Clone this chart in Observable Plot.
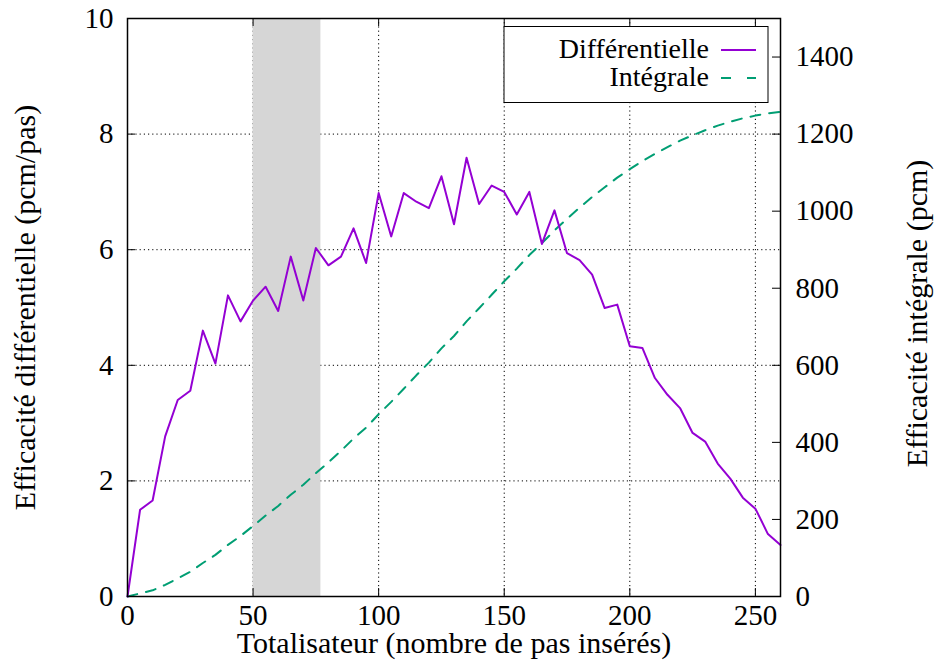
<!DOCTYPE html>
<html>
<head>
<meta charset="utf-8">
<script src="https://cdn.jsdelivr.net/npm/d3@7"></script>
<script src="https://cdn.jsdelivr.net/npm/@observablehq/plot@0.6"></script>
<style>
  html, body { margin: 0; padding: 0; background: #fff; }
  #chart { width: 935px; height: 668px; }
</style>
</head>
<body>
<div id="chart"></div>
<script>
// Data
const steps = [0,5,10,15,20,25,30,35,40,45,50,55,60,65,70,75,80,85,90,95,100,105,110,115,120,125,130,135,140,145,150,155,160,165,170,175,180,185,190,195,200,205,210,215,220,225,230,235,240,245,250,255,260];
const differentielle = [0,1.50,1.66,2.77,3.40,3.56,4.60,4.03,5.21,4.76,5.12,5.36,4.94,5.88,5.12,6.03,5.73,5.88,6.37,5.77,6.98,6.23,6.98,6.83,6.72,7.27,6.44,7.59,6.79,7.11,7.00,6.61,7.00,6.10,6.68,5.94,5.82,5.57,4.99,5.05,4.33,4.30,3.78,3.49,3.26,2.83,2.68,2.30,2.04,1.71,1.52,1.08,0.89];
const integrale = [0,8,16,30,47,64,87,108,134,157,183,210,235,264,290,320,348,378,410,438,473,505,539,574,607,644,676,714,748,783,818,851,886,917,950,980,1009,1037,1062,1087,1109,1130,1149,1166,1183,1197,1210,1222,1232,1241,1248,1254,1258];
const xTicks = [0,50,100,150,200,250];
const yTicks = [0,2,4,6,8,10];
const y2Ticks = [0,200,400,600,800,1000,1200,1400];
const gridXTicks = [50,100,150,200,250];
const gridYTicks = [2,4,6,8];
const band = [{x1: 50, x2: 77}];
const seriesNames = ["Différentielle", "Intégrale"];
const xLabel = "Totalisateur (nombre de pas insérés)";
const yLabel = "Efficacité différentielle (pcm/pas)";
const y2Label = "Efficacité intégrale (pcm)";

const y2Max = 1500, yMax = 10;
const k = y2Max / yMax; // y2 units per y unit

const diffData = steps.map((s, i) => ({x: s, v: differentielle[i]}));
const intData = steps.map((s, i) => ({x: s, v: integrale[i] / k}));

const W = 935, H = 668, mL = 127, mR = 155, mT = 18, mB = 72;
const pw = W - mL - mR, ph = H - mT - mB;
const font = "Liberation Serif";
const FS = 29;      // tick labels
const FT = 30;      // axis titles
const FL = 28;      // legend
const purple = "#9400d3", green = "#009e73";

const chart = Plot.plot({
  width: W, height: H,
  marginLeft: mL, marginRight: mR, marginTop: mT, marginBottom: mB,
  x: {domain: [0, 260]},
  y: {domain: [0, yMax]},
  marks: [
    Plot.gridX(gridXTicks, {stroke: "#000", strokeOpacity: 1, strokeWidth: 1, strokeDasharray: "1.2,3"}),
    Plot.gridY(gridYTicks, {stroke: "#000", strokeOpacity: 1, strokeWidth: 1, strokeDasharray: "1.2,3"}),
    Plot.rect(band, {x1: "x1", x2: "x2", fill: "#d6d6d6"}),
    // inward ticks
    Plot.ruleY(yTicks, {stroke: "#000", strokeWidth: 1, insetRight: pw - 8}),
    Plot.ruleY(y2Ticks.map(v => v / k), {stroke: "#000", strokeWidth: 1, insetLeft: pw - 8}),
    Plot.ruleX(xTicks, {stroke: "#000", strokeWidth: 1, insetTop: ph - 8}),
    Plot.ruleX(xTicks, {stroke: "#000", strokeWidth: 1, insetBottom: ph - 8}),
    Plot.line(intData, {x: "x", y: "v", stroke: green, strokeWidth: 2, strokeDasharray: "10,9"}),
    Plot.line(diffData, {x: "x", y: "v", stroke: purple, strokeWidth: 2}),
    Plot.frame({stroke: "#000", strokeWidth: 1.5}),
    Plot.axisX(xTicks, {tickSize: 0, tickPadding: 8, label: null, fontFamily: font, fontSize: FS, fill: "#000", tickFormat: d => String(d)}),
    Plot.axisY(yTicks, {tickSize: 0, tickPadding: 14, label: null, fontFamily: font, fontSize: FS, fill: "#000", tickFormat: d => String(d)}),
    Plot.axisY(y2Ticks.map(v => v / k), {anchor: "right", tickSize: 0, tickPadding: 15, label: null, fontFamily: font, fontSize: FS, fill: "#000", tickFormat: d => String(Math.round(d * k))}),
    Plot.text([xLabel], {frameAnchor: "bottom", dy: 56, fontFamily: font, fontSize: FT, fill: "#000", textAnchor: "middle", text: d => d}),
    Plot.text([yLabel], {frameAnchor: "left", dx: -102, rotate: -90, fontFamily: font, fontSize: FT, fill: "#000", textAnchor: "middle", text: d => d}),
    Plot.text([y2Label], {frameAnchor: "right", dx: 137, dy: 6, rotate: -90, fontFamily: font, fontSize: FT, fill: "#000", textAnchor: "middle", text: d => d})
  ]
});

document.getElementById("chart").appendChild(chart);

// Legend box inside plot (top-right), gnuplot style
const svg = d3.select(chart);
const lg = svg.append("g");
lg.append("rect").attr("x", 504).attr("y", 26.5).attr("width", 264).attr("height", 76)
  .attr("fill", "#fff").attr("stroke", "#000").attr("stroke-width", 1);
const rows = [
  {name: seriesNames[0], color: purple, dash: null, y: 50},
  {name: seriesNames[1], color: green, dash: "10,16", y: 78}
];
rows.forEach(r => {
  lg.append("text").attr("x", 709).attr("y", r.y).attr("dy", "0.28em")
    .attr("font-family", font).attr("font-size", FL)
    .attr("text-anchor", "end").attr("fill", "#000").text(r.name);
  lg.append("line").attr("x1", 721).attr("x2", 756).attr("y1", r.y).attr("y2", r.y)
    .attr("stroke", r.color).attr("stroke-width", 2)
    .attr("stroke-dasharray", r.dash);
});
</script>
</body>
</html>
